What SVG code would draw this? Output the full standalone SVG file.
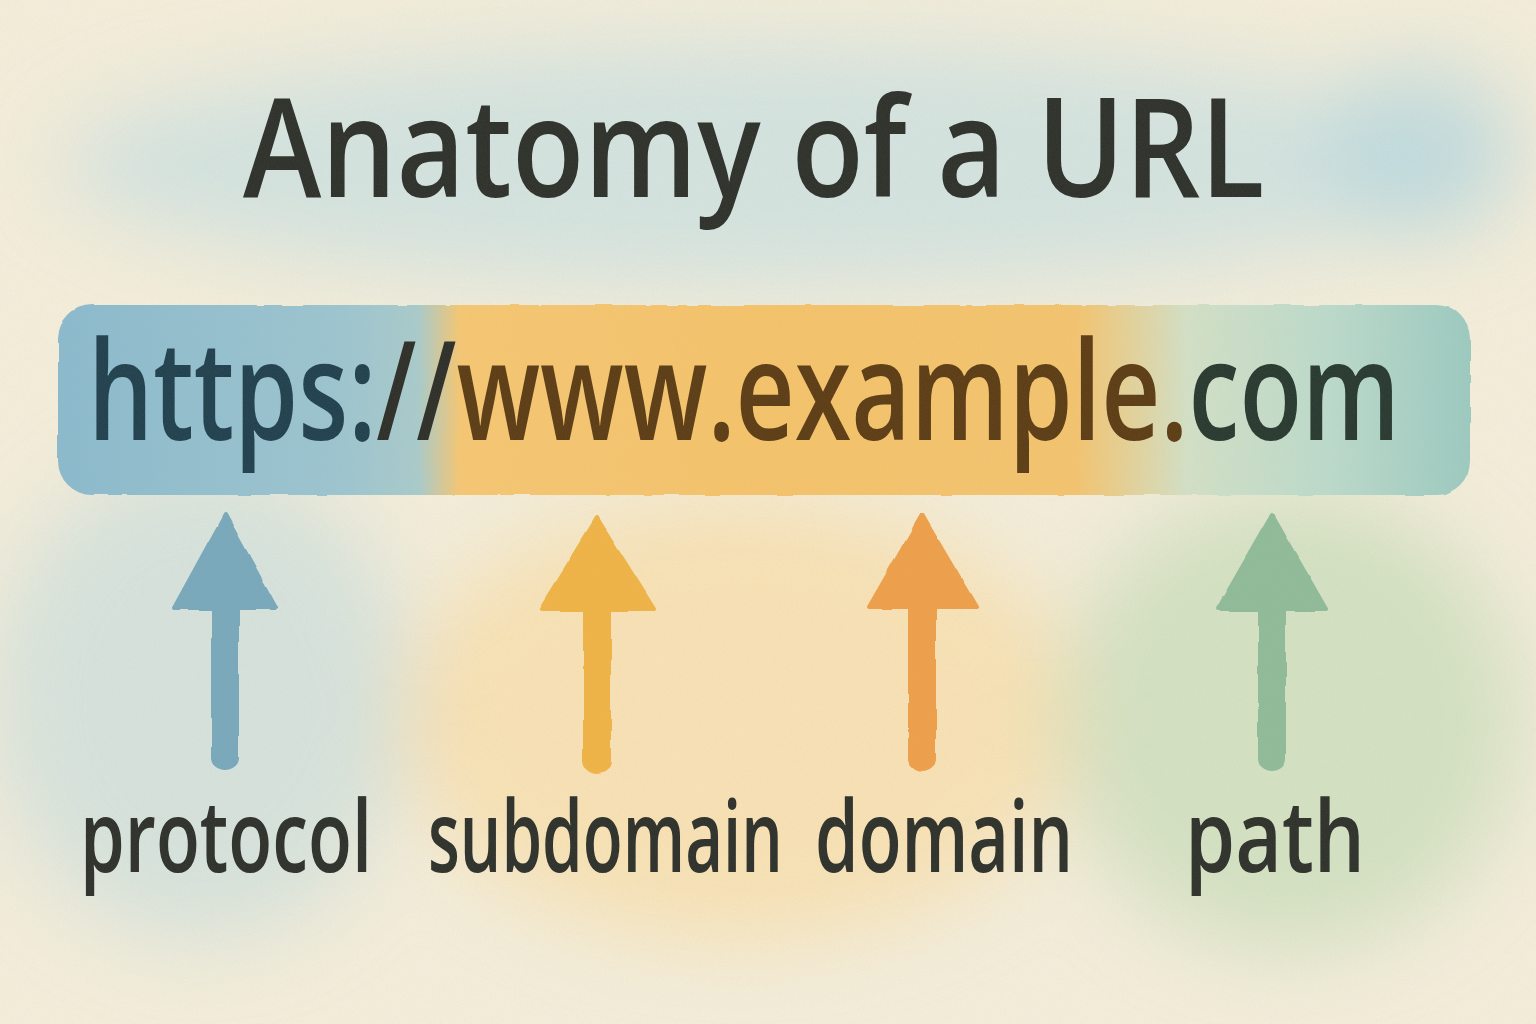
<svg xmlns="http://www.w3.org/2000/svg" width="1536" height="1024" viewBox="0 0 1536 1024">
  <defs>
    <filter id="blur" x="-30%" y="-30%" width="160%" height="160%">
      <feGaussianBlur stdDeviation="40"/>
    </filter>
    <filter id="soft" x="-10%" y="-10%" width="120%" height="120%">
      <feTurbulence type="fractalNoise" baseFrequency="0.03" numOctaves="2" seed="3" result="n"/>
      <feDisplacementMap in="SourceGraphic" in2="n" scale="4" xChannelSelector="R" yChannelSelector="G"/>
    </filter>
    <filter id="paper" x="0" y="0" width="100%" height="100%">
      <feTurbulence type="fractalNoise" baseFrequency="0.9" numOctaves="2" seed="7"/>
      <feColorMatrix type="matrix" values="0 0 0 0 0.45  0 0 0 0 0.4  0 0 0 0 0.3  0 0 0 0.12 0"/>
    </filter>
    <linearGradient id="bar" x1="58" y1="0" x2="1470" y2="0" gradientUnits="userSpaceOnUse">
      <stop offset="0" stop-color="#8abbcf"/>
      <stop offset="0.2" stop-color="#9cc6d2"/>
      <stop offset="0.255" stop-color="#a9cccd"/>
      <stop offset="0.285" stop-color="#f8c872"/>
      <stop offset="0.5" stop-color="#f7c46a"/>
      <stop offset="0.72" stop-color="#f6c56e"/>
      <stop offset="0.8" stop-color="#d4e2c8"/>
      <stop offset="0.9" stop-color="#bcdccd"/>
      <stop offset="1" stop-color="#9ccbc2"/>
    </linearGradient>
    <style>
      .label { font-family: "Open Sans", "Noto Sans", "Liberation Sans", sans-serif; font-weight: 600; fill: #2b2e29; }
      .url { font-family: "Open Sans", "Noto Sans", "Liberation Sans", sans-serif; font-weight: 600; }
    </style>
  </defs>

  <!-- paper -->
  <rect width="1536" height="1024" fill="#f6f0dd"/>
  <!-- washes -->
  <g filter="url(#blur)">
    <ellipse cx="780" cy="165" rx="720" ry="120" fill="#cfe3e3" opacity="0.85"/>
    <ellipse cx="1420" cy="150" rx="100" ry="90" fill="#b9d8e0" opacity="0.7"/>
    <ellipse cx="200" cy="700" rx="210" ry="240" fill="#cfe1de" opacity="0.8"/>
    <ellipse cx="740" cy="720" rx="340" ry="220" fill="#fbdfa8" opacity="0.75"/>
    <ellipse cx="1290" cy="720" rx="230" ry="230" fill="#cfe0bf" opacity="0.85"/>
  </g>

  <!-- URL bar -->
  <g id="url-bar">
    <rect x="58" y="305" width="1412" height="190" rx="34" fill="url(#bar)" filter="url(#soft)"/>
    <text class="url" transform="translate(88,440) scale(0.745,1)" x="0" y="0" font-size="138" textLength="1761" lengthAdjust="spacingAndGlyphs"><tspan fill="#1d3e4d">https:</tspan><tspan fill="#2a2c27">//</tspan><tspan fill="#5a3a12">www.example.</tspan><tspan fill="#25372e">com</tspan></text>
  </g>

  <!-- title -->
  <g id="title">
    <text class="label" transform="translate(243,197) scale(0.86,1)" x="0" y="0" font-size="138" textLength="1188" lengthAdjust="spacingAndGlyphs" fill="#2a2e2b">Anatomy of a URL</text>
  </g>

  <!-- connectors (arrows) -->
  <g id="connectors" stroke-linejoin="round" stroke-width="4" filter="url(#soft)">
    <path d="M225,515 L276,608 L237,608 L237,758 A12,10 0 0 1 213,758 L213,608 L174,608 Z" fill="#77a9bd" stroke="#77a9bd"/>
    <path d="M597,518 L654,609 L609,609 L609,761 A12,10 0 0 1 585,761 L585,609 L541,609 Z" fill="#f2b445" stroke="#f2b445"/>
    <path d="M922,515 L976,607 L934,607 L934,759 A12,10 0 0 1 910,759 L910,607 L869,607 Z" fill="#f0a04a" stroke="#f0a04a"/>
    <path d="M1272,515 L1326,609 L1284,609 L1284,759 A12,10 0 0 1 1260,759 L1260,609 L1218,609 Z" fill="#8fbc9a" stroke="#8fbc9a"/>
  </g>

  <!-- labels -->
  <g id="protocol">
    <text class="label" transform="translate(80,872) scale(0.72,1)" x="0" y="0" font-size="100" textLength="405.6" lengthAdjust="spacingAndGlyphs">protocol</text>
  </g>
  <g id="subdomain">
    <text class="label" transform="translate(428,872) scale(0.65,1)" x="0" y="0" font-size="100" textLength="546" lengthAdjust="spacingAndGlyphs">subdomain</text>
  </g>
  <g id="domain">
    <text class="label" transform="translate(815,872) scale(0.7,1)" x="0" y="0" font-size="100" textLength="368.6" lengthAdjust="spacingAndGlyphs">domain</text>
  </g>
  <g id="path">
    <text class="label" transform="translate(1185,872) scale(0.82,1)" x="0" y="0" font-size="100" textLength="219.5" lengthAdjust="spacingAndGlyphs" fill="#25352c">path</text>
  </g>

  <!-- paper grain -->
  <rect width="1536" height="1024" filter="url(#paper)"/>
</svg>
